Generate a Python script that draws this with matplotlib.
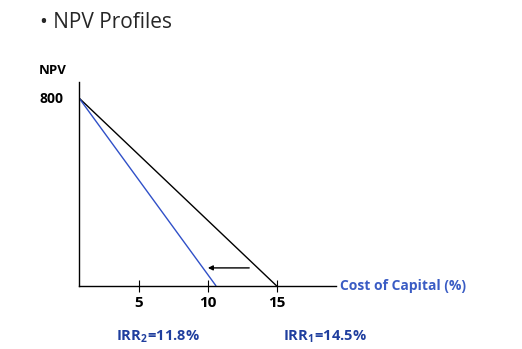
import matplotlib.pyplot as plt

plt.rcParams['font.family'] = ['Open Sans', 'DejaVu Sans']
plt.rcParams['mathtext.fontset'] = 'custom'
plt.rcParams['mathtext.bf'] = 'Open Sans:bold'
plt.rcParams['mathtext.rm'] = 'Open Sans'

# NPV profiles (schematic): NPV at 0% and where each line hits zero
npv0 = [800, 800]
line_starts = [0.65, 0.65]
line_ends = [15.0, 10.6]
line_colors = ['black', '#3050c8']
xticks = [5, 10, 15]
yticks = [800]
irr_labels = [r'$\mathbf{IRR_2\!=\!11.8\%}$', r'$\mathbf{IRR_1\!=\!14.5\%}$']
irr_label_x = [6.4, 18.5]
arrow_from = (13.0, 77)
arrow_to = (10.0, 77)

fig = plt.figure(figsize=(5.22, 3.49), dpi=100)
ax = fig.add_axes([79/522, 63/349, (336-79)/522, (267-63)/349])

for x0, x1, y0, c in zip(line_starts, line_ends, npv0, line_colors):
    ax.plot([x0, x1], [y0, 0], color=c, lw=1.0, solid_capstyle='butt')

ax.annotate('', xy=arrow_to, xytext=arrow_from,
            arrowprops=dict(arrowstyle='-|>', color='black', lw=1.0,
                            mutation_scale=7, shrinkA=0, shrinkB=0))

ax.set_xlim(0.65, 19.3)
ax.set_ylim(0, 868)
for s in ['top', 'right']:
    ax.spines[s].set_visible(False)
ax.spines['left'].set_linewidth(1.0)
ax.spines['bottom'].set_linewidth(1.0)

ax.set_xticks(xticks)
ax.set_xticklabels([str(t) for t in xticks], fontweight='bold', fontsize=11)
ax.tick_params(axis='x', direction='inout', length=8, width=0.8, pad=3)
ax.set_yticks(yticks)
ax.set_yticklabels([str(t) for t in yticks], fontweight='bold', fontsize=10)
ax.tick_params(axis='y', length=0, pad=11)

ax.text(19.6, 0, 'Cost of Capital (%)', color='#3a5cc4', fontweight='bold',
        fontsize=10, va='center', ha='left', clip_on=False)
ax.text(-2.3, 919, 'NPV', fontweight='bold', fontsize=9.5, va='center',
        ha='left', clip_on=False)

for lab, lx in zip(irr_labels, irr_label_x):
    ax.text(lx, -216, lab, color='#1f3e9e', fontsize=10.5, ha='center',
            va='center', clip_on=False)

fig.text(40/522, 1 - 22/349, '\u2022 NPV Profiles', fontsize=15,
         color='#262626', va='center', ha='left')

fig.savefig('out.png', dpi=100)
